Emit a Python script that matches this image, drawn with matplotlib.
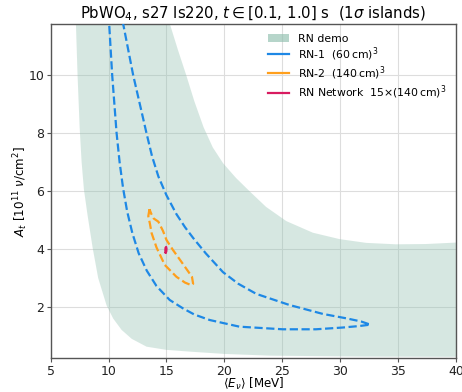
import numpy as np
import matplotlib
matplotlib.use("Agg")
import matplotlib.pyplot as plt
from matplotlib.patches import Patch
from matplotlib.lines import Line2D

# Demo-network allowed band: outline (upper branch, then lower/left branch)
band_upper_E = [6.9, 14.9, 15.29, 16.0, 16.7, 17.4, 18.2, 19.0, 19.9, 21.0, 22.2, 23.6,
                25.35, 27.64, 29.94, 32.24, 34.83, 37.4, 40.5]
band_upper_A = [14.0, 12.3, 11.76, 10.85, 10.0, 9.1, 8.2, 7.5, 6.95, 6.45, 5.98, 5.45,
                4.96, 4.56, 4.34, 4.21, 4.16, 4.17, 4.23]
band_lower_E = [6.9, 7.18, 7.32, 7.5, 7.67, 7.87, 8.19, 8.62, 9.10, 9.83, 10.4, 11.12, 12.0,
                13.28, 15.0, 17.0, 20.0, 24.0, 32.0, 40.5]
band_lower_A = [14.0, 11.76, 10.0, 8.2, 7.0, 6.05, 5.15, 4.05, 3.0, 2.05, 1.6, 1.21, 0.90,
                0.63, 0.52, 0.46, 0.38, 0.32, 0.29, 0.28]

# RN-1 (60 cm)^3 1-sigma island
rn1_E = [9.98, 10.05, 10.31, 10.69, 10.95, 11.25, 11.6, 12.05, 12.6, 13.3, 14.14, 15.28,
         16.43, 17.4, 18.73, 21.3, 25.05, 27.9, 30.2, 31.6, 32.6,
         31.8, 30.5, 28.5, 25.6, 22.76, 21.2, 19.88, 18.39, 17.3, 16.6, 15.86, 15.0, 14.3,
         13.75, 13.27, 12.12, 11.26, 10.9]
rn1_A = [12.5, 11.76, 10.0, 8.0, 7.0, 6.1, 5.3, 4.55, 3.85, 3.25, 2.72, 2.24,
         1.95, 1.74, 1.55, 1.32, 1.23, 1.23, 1.29, 1.34, 1.39,
         1.50, 1.61, 1.76, 2.07, 2.45, 2.80, 3.20, 3.85, 4.38, 4.75, 5.2, 5.85, 6.5,
         7.2, 8.0, 10.0, 11.76, 12.5]

# RN-2 (140 cm)^3 1-sigma island
rn2_E = [13.53, 13.43, 13.56, 13.72, 14.14, 14.85, 15.86, 16.6, 17.15, 17.3, 17.2, 16.3,
         15.55, 15.0, 14.7, 14.3, 13.9, 13.7, 13.53]
rn2_A = [5.37, 5.13, 4.89, 4.54, 4.05, 3.45, 3.04, 2.84, 2.75, 2.80, 3.04, 3.55,
         3.97, 4.31, 4.62, 4.94, 5.05, 5.2, 5.37]

# RN network 15 x (140 cm)^3 1-sigma island
net_E = [14.93, 14.90, 14.92, 14.97, 15.00, 14.98, 14.93]
net_A = [3.88, 3.95, 4.04, 4.07, 4.00, 3.91, 3.88]

x_ticks = [5, 10, 15, 20, 25, 30, 35, 40]
y_ticks = [2, 4, 6, 8, 10]

band_color = "#8fbfae"
c_rn1 = "#1e88e5"
c_rn2 = "#ff9f1c"
c_net = "#d81b60"

fig = plt.figure(figsize=(4.62, 3.92), dpi=100)
ax = fig.add_axes([0.1097, 0.086, 0.987 - 0.1097, 0.939 - 0.086])

ax.fill(band_upper_E + band_lower_E[::-1], band_upper_A + band_lower_A[::-1],
        color=band_color, alpha=0.36, lw=0, zorder=1)
ax.plot(rn1_E, rn1_A, color=c_rn1, ls="--", lw=1.6, zorder=3)
ax.plot(rn2_E, rn2_A, color=c_rn2, ls="--", lw=1.6, zorder=3)
ax.plot(net_E, net_A, color=c_net, ls="-", lw=1.6, zorder=4)

ax.set_xlim(5, 40)
ax.set_ylim(0.23, 11.76)
ax.set_xticks(x_ticks)
ax.set_yticks(y_ticks)
ax.grid(True, color="#dddddd", lw=0.8, zorder=0)
ax.set_axisbelow(True)
for s in ax.spines.values():
    s.set_color("#555555")
    s.set_linewidth(1.0)
ax.tick_params(direction="out", length=3, width=0.8, color="#555555",
               labelsize=9, labelcolor="#222222", pad=1.5)

ax.set_xlabel(r"$\langle E_\nu\rangle$ [MeV]", fontsize=8.6, labelpad=-1)
ax.set_ylabel(r"$A_t$ [$10^{11}$ $\nu$/cm$^2$]", fontsize=8.6, labelpad=-1)
ax.set_title(r"PbWO$_4$, s27 ls220, $t \in [0.1,\,1.0]$ s  (1$\sigma$ islands)",
             fontsize=10.7, pad=4)

handles = [
    Patch(facecolor=band_color, alpha=0.65, edgecolor="none"),
    Line2D([], [], color=c_rn1, lw=1.6),
    Line2D([], [], color=c_rn2, lw=1.6),
    Line2D([], [], color=c_net, lw=1.6),
]
labels = [
    "RN demo",
    r"RN-1  (60$\,$cm)$^3$",
    r"RN-2  (140$\,$cm)$^3$",
    r"RN Network  15$\times$(140$\,$cm)$^3$",
]
ax.legend(handles, labels, loc="upper right", frameon=False, fontsize=7.8,
          bbox_to_anchor=(1.0, 1.0), handlelength=2.0, handletextpad=0.8,
          borderaxespad=0.5, labelspacing=0.15)

fig.savefig("out.png", dpi=100)
